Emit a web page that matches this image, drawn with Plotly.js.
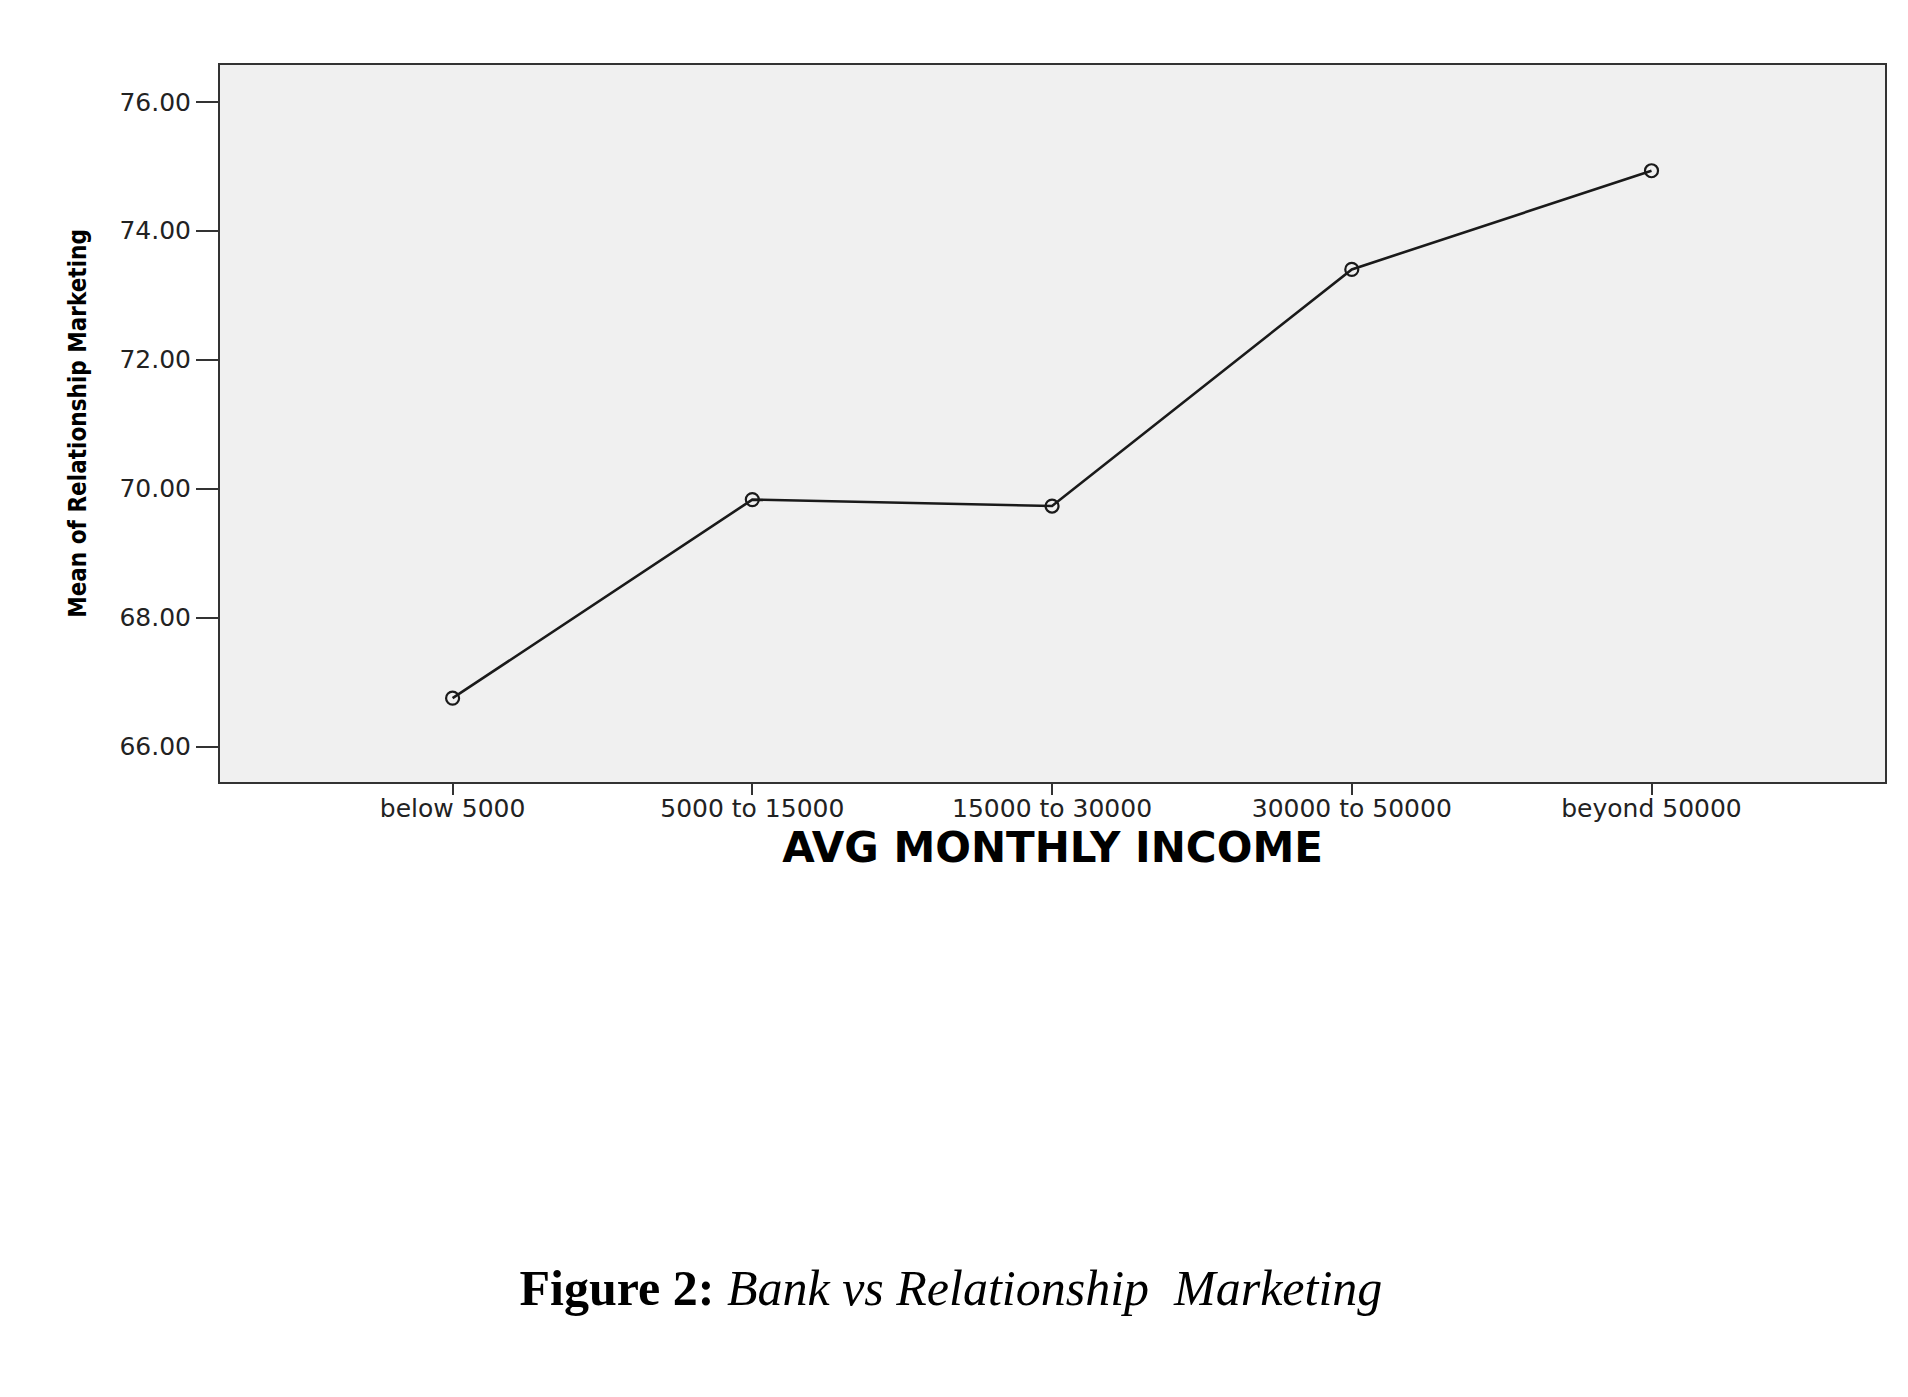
<!DOCTYPE html>
<html>
<head>
<meta charset="utf-8">
<script src="https://cdn.plot.ly/plotly-3.0.1.min.js"></script>
<style>
  html, body { margin: 0; padding: 0; background: #ffffff; }
  #chart { width: 1908px; height: 1397px; }
</style>
</head>
<body>
<div id="chart"></div>
<script>
// Data
const incomeCategories = ["below 5000", "5000 to 15000", "15000 to 30000", "30000 to 50000", "beyond 50000"];
const meanRelationshipMarketing = [66.75, 69.83, 69.73, 73.40, 74.93];
const yTickValues = [66, 68, 70, 72, 74, 76];

const xTitle = "AVG MONTHLY INCOME";
const yTitle = "Mean of Relationship Marketing";
const caption = "<b>Figure 2:</b> <i>Bank vs Relationship\u00a0 Marketing</i>";

const trace = {
  x: incomeCategories.map((_, i) => i),
  y: meanRelationshipMarketing,
  type: "scatter",
  mode: "lines+markers",
  line: { color: "#1a1a1a", width: 2.6 },
  marker: { symbol: "circle-open", size: 13, color: "#1a1a1a", line: { width: 2.2, color: "#1a1a1a" } },
  hoverinfo: "skip",
  showlegend: false
};

const layout = {
  width: 1908,
  height: 1397,
  margin: { l: 220, r: 23, t: 65, b: 615, pad: 0 },
  paper_bgcolor: "#ffffff",
  plot_bgcolor: "#f0f0f0",
  showlegend: false,
  title: {
    text: caption,
    font: { family: "Liberation Serif, Times New Roman, serif", size: 50, color: "#000000" },
    x: 0.4984, xanchor: "center", xref: "container",
    y: 0.0787, yanchor: "middle", yref: "container"
  },
  xaxis: {
    range: [-0.776, 4.779],
    tickmode: "array",
    tickvals: incomeCategories.map((_, i) => i),
    ticktext: incomeCategories,
    ticks: "outside", ticklen: 11, tickwidth: 2, tickcolor: "#333333",
    ticklabelstandoff: -8,
    tickfont: { family: "DejaVu Sans, sans-serif", size: 25, color: "#222222" },
    showgrid: false, zeroline: false,
    showline: true, linecolor: "#333333", linewidth: 2, mirror: true,
    automargin: false,
    title: {
      text: xTitle,
      font: { family: "DejaVu Sans, sans-serif", size: 42, color: "#000000", weight: "bold" },
      standoff: 8
    }
  },
  yaxis: {
    range: [65.45, 76.57],
    tickmode: "array",
    tickvals: yTickValues,
    tickformat: ".2f",
    ticks: "outside", ticklen: 22, tickwidth: 2, tickcolor: "#333333",
    tickfont: { family: "DejaVu Sans, sans-serif", size: 25, color: "#222222" },
    showgrid: false, zeroline: false,
    showline: true, linecolor: "#333333", linewidth: 2, mirror: true,
    automargin: false,
    title: {
      text: yTitle,
      font: { family: "Liberation Sans Narrow, DejaVu Sans Condensed, Arial Narrow, sans-serif", size: 24, color: "#000000", weight: "bold" },
      standoff: 26
    }
  }
};

Plotly.newPlot("chart", [trace], layout, { displayModeBar: false, staticPlot: true });
</script>
</body>
</html>
